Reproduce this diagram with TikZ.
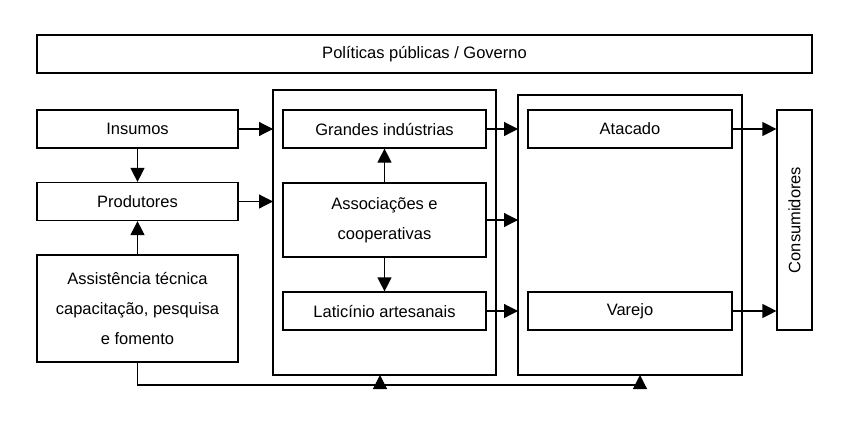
\documentclass[tikz,border=0pt]{standalone}
\usepackage{fontspec}
\setmainfont{Liberation Sans}
\usetikzlibrary{
    arrows.meta,
    positioning,
    calc}

\begin{document}
\begin{tikzpicture}[x=1pt,y=-1pt,
    box/.style={draw,line width=1.2pt,minimum height=38pt,inner sep=2pt,font=\fontsize{16.5}{30}\selectfont,align=center},
    frame/.style={draw,line width=1.2pt},
    arr/.style={line width=1.2pt,-{Triangle[length=14pt,width=14pt]}}]
    \useasboundingbox (0,0) rectangle (850,421);
    % frames
    \draw [frame] (273,90) rectangle (496,375);
    \draw [frame] (518,95) rectangle (742,375);
    \coordinate (midW) at (273,0);
    \coordinate (rightW) at (518,0);
    % boxes
    \node[box,minimum width=775pt] (gov) at (424.5,54) {Políticas públicas / Governo};
    \node[box,minimum width=201pt] (ins) at (137.5,129) {Insumos};
    \node[box,minimum width=201pt] (prod) at (137.5,201.5) {Produtores};
    \node[box,minimum width=201pt,minimum height=107pt] (assist) at (137.5,308.5) {Assistência técnica\\capacitação, pesquisa\\e fomento};
    \node[box,minimum width=203pt] (grand) at (384.5,129) {Grandes indústrias};
    \node[box,minimum width=203pt,minimum height=74pt] (assoc) at (384.5,220) {Associações e\\cooperativas};
    \node[box,minimum width=203pt] (latic) at (384.5,311) {Laticínio artesanais};
    \node[box,minimum width=204pt] (atac) at (630,129) {Atacado};
    \node[box,minimum width=204pt] (varejo) at (630,311) {Varejo};
    \node[box,minimum width=220pt,minimum height=35pt,rotate=90] (cons) at (794.5,220) {Consumidores};
    % connectors
    \draw [arr] (ins) -- (prod);
    \draw [arr] (assist) -- (prod);
    \draw [arr] (ins.east) -- (ins.east -| midW);
    \draw [arr] (prod.east) -- (prod.east -| midW);
    \draw [arr] (assoc.north) -- (grand.south);
    \draw [arr] (assoc.south) -- (latic.north);
    \draw [arr] (grand.east) -- (grand.east -| rightW);
    \draw [arr] (assoc.east) -- (assoc.east -| rightW);
    \draw [arr] (latic.east) -- (latic.east -| rightW);
    \draw [arr] (atac.east) -- (atac.east -| cons.north);
    \draw [arr] (varejo.east) -- (varejo.east -| cons.north);
    \draw [line width=1.2pt] (assist.south) -- (137.5,385) -- (640,385);
    \draw [arr] (380,386) -- (380,375);
    \draw [arr] (640,386) -- (640,375);
\end{tikzpicture}
\end{document}
